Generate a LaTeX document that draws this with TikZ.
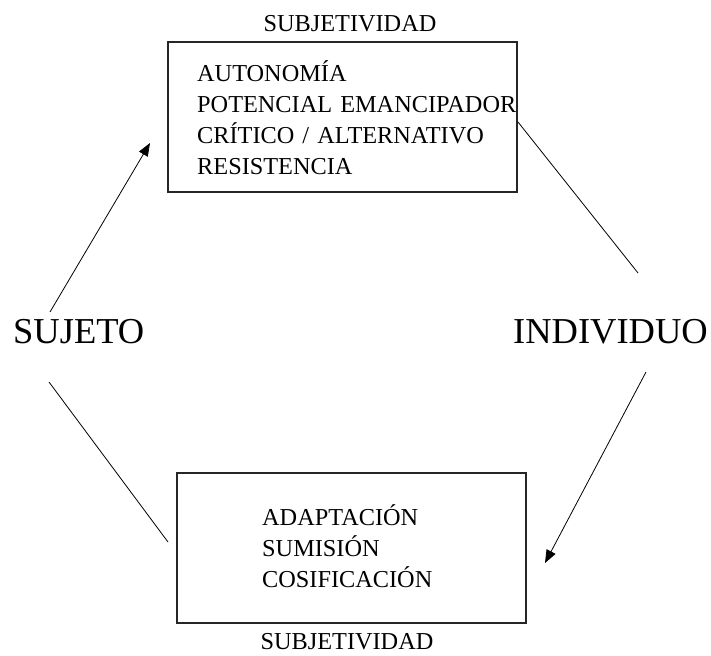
\documentclass[tikz,border=0pt]{standalone}
\usepackage{fontspec}
\setmainfont{Liberation Serif}
\usetikzlibrary{arrows.meta}
\begin{document}
\begin{tikzpicture}[x=1pt,y=-1pt,
  boxstyle/.style={draw=black!85, line width=1.2pt, minimum width=#1, inner sep=0pt},
  listtext/.style={font=\fontsize{24.3}{31}\selectfont, inner sep=0pt, align=left, text width=330pt},
  bigword/.style={font=\fontsize{36.5}{40}\selectfont, inner sep=0pt, anchor=base west},
  headword/.style={font=\fontsize{24.3}{28}\selectfont, inner sep=0pt, anchor=base},
  link/.style={line width=0.8pt},
  arrowlink/.style={line width=0.8pt, -{Triangle[length=13pt,width=10pt]}}]
\useasboundingbox (0,0) rectangle (711,655);
% boxes
\node[boxstyle=349pt, minimum height=150pt] (topbox) at (342.5,117) {};
\node[boxstyle=349pt, minimum height=150pt] (botbox) at (351.5,548) {};
% box texts
\node[listtext, anchor=base west] (toptext) at (197,82)
  {AUTONOMÍA\\POTENCIAL EMANCIPADOR\\CRÍTICO / ALTERNATIVO\\RESISTENCIA};
\node[listtext, anchor=base west] (bottext) at (262,525)
  {ADAPTACIÓN\\SUMISIÓN\\COSIFICACIÓN};
% labels
\node[headword] (subjtop) at (350,32) {SUBJETIVIDAD};
\node[headword] (subjbot) at (347,649) {SUBJETIVIDAD};
\node[bigword] (sujeto) at (13,343) {SUJETO};
\node[bigword] (individuo) at (513,343) {INDIVIDUO};
% connector ends
\coordinate (a1s) at (50,312);
\coordinate (a1e) at (150,143);
\coordinate (l2s) at (49,382);
\coordinate (l2e) at (168,542);
\coordinate (l3s) at (518,122);
\coordinate (l3e) at (638,273);
\coordinate (a4s) at (646,372);
\coordinate (a4e) at (545,563);
% connectors
\draw[arrowlink] (a1s) -- (a1e);
\draw[link] (l2s) -- (l2e);
\draw[link] (l3s) -- (l3e);
\draw[arrowlink] (a4s) -- (a4e);
\end{tikzpicture}
\end{document}
